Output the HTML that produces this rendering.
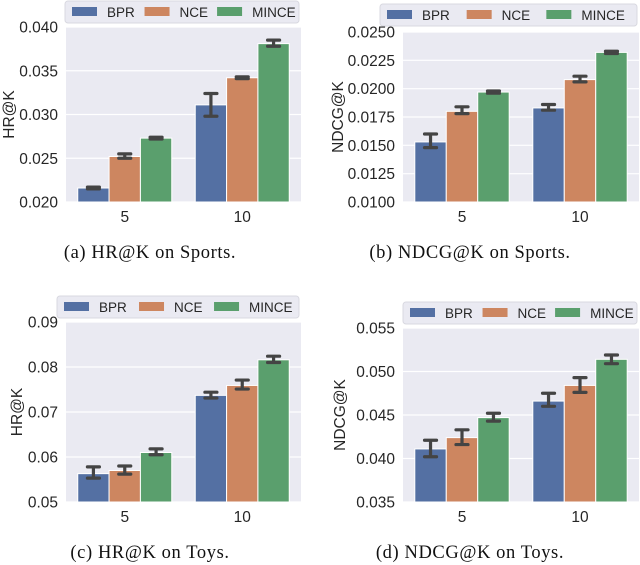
<!DOCTYPE html>
<html><head><meta charset="utf-8"><style>
body{margin:0;background:#fff;width:640px;height:565px;overflow:hidden}
svg{display:block}
</style></head><body>
<svg id="c" width="640" height="565" xmlns="http://www.w3.org/2000/svg"></svg>
<script>
const categories=["5","10"];
const seriesNames=["BPR","NCE","MINCE"];
const colors=["#5470a3","#cd8660","#5a9f6d"];
// panel a: HR@K Sports
const aValues=[[0.0216,0.0311],[0.0252,0.0342],[0.0273,0.0381]];
const aLow=[[0.0215,0.0298],[0.0250,0.0341],[0.0272,0.0378]];
const aHigh=[[0.0217,0.0324],[0.0255,0.0343],[0.0274,0.0385]];
const aTicks=["0.020","0.025","0.030","0.035","0.040"];
// panel b: NDCG@K Sports
const bValues=[[0.0153,0.0183],[0.0180,0.0208],[0.0197,0.0232]];
const bLow=[[0.0148,0.0181],[0.0178,0.0206],[0.0196,0.0231]];
const bHigh=[[0.0160,0.0186],[0.0184,0.0211],[0.0198,0.0233]];
const bTicks=["0.0100","0.0125","0.0150","0.0175","0.0200","0.0225","0.0250"];
// panel c: HR@K Toys
const cValues=[[0.0563,0.0737],[0.0570,0.0759],[0.0610,0.0816]];
const cLow=[[0.0553,0.0731],[0.0562,0.0751],[0.0605,0.0810]];
const cHigh=[[0.0578,0.0744],[0.0580,0.0771],[0.0618,0.0824]];
const cTicks=["0.05","0.06","0.07","0.08","0.09"];
// panel d: NDCG@K Toys
const dValues=[[0.0411,0.0466],[0.0424,0.0484],[0.0447,0.0514]];
const dLow=[[0.0402,0.0460],[0.0416,0.0476],[0.0443,0.0509]];
const dHigh=[[0.0421,0.0475],[0.0433,0.0493],[0.0452,0.0519]];
const dTicks=["0.035","0.040","0.045","0.050","0.055"];

const NS="http://www.w3.org/2000/svg";
const svg=document.getElementById('c');
const FONT='Liberation Sans, Arial, sans-serif';
function mk(tag,attrs,parent){const e=document.createElementNS(NS,tag);for(const k in attrs)e.setAttribute(k,attrs[k]);(parent||svg).appendChild(e);return e;}

function panel(id,x0,x1,yTop,yBot,ticks,vals,lo,hi,ylabel,ylx,legX0,legY,caption,capX,capY){
  const g=mk('g',{});
  
  
  const tmin=parseFloat(ticks[0]),tmax=parseFloat(ticks[ticks.length-1]);
  const y=v=>yBot-(v-tmin)/(tmax-tmin)*(yBot-yTop);
  const bg=mk('rect',{x:x0,y:yTop,width:x1-x0,height:yBot-yTop,fill:'#eaeaf2'},g);
  
  
  ticks.forEach(t=>{
    const v=parseFloat(t),yy=y(v);
    mk('line',{x1:x0,x2:x1,y1:yy,y2:yy,stroke:'#fff','stroke-width':1.2},g);
    const tx=mk('text',{x:x0-8,y:yy+5.5,'text-anchor':'end','font-size':15.5,fill:'#262626','font-family':FONT},g);
    tx.textContent=t;
    
    
  });
  const band=(x1-x0)/categories.length,bw=band*0.8/3;
  categories.forEach((c,ci)=>{
    const cx=x0+band*(ci+0.5);
    seriesNames.forEach((s,si)=>{
      const bx=cx-band*0.4+si*bw;
      const r=mk('rect',{x:bx,y:y(vals[si][ci]),width:bw,height:yBot-y(vals[si][ci]),fill:colors[si],stroke:'#fff','stroke-width':1},g);
      
      
      const mx=bx+bw/2,yl=y(lo[si][ci]),yh=y(hi[si][ci]);
      const eb=mk('path',{d:`M${mx},${yl}V${yh}M${mx-6},${yl}H${mx+6}M${mx-6},${yh}H${mx+6}`,stroke:'#444','stroke-width':3.2,'stroke-linecap':'round',fill:'none'},g);
      
      
    });
    const xt=mk('text',{x:cx,y:yBot+20,'text-anchor':'middle','font-size':15.5,fill:'#262626','font-family':FONT},g);
    xt.textContent=c;
    
    
  });
  const yl=mk('text',{x:ylx,y:(yTop+yBot)/2,'text-anchor':'middle','font-size':15.5,fill:'#262626','font-family':FONT,transform:`rotate(-90 ${ylx} ${(yTop+yBot)/2})`},g);
  yl.textContent=ylabel;
  
  
  const lg=mk('g',{},g);
  
  
  const lw=x1-legX0-2;
  mk('rect',{x:legX0,y:legY,width:lw,height:22,rx:3,fill:'#eaeaf2',stroke:'#d8d8e0','stroke-width':1},lg);
  const offs=[0,0.31,0.62];
  seriesNames.forEach((s,si)=>{
    const ex=legX0+7+offs[si]*lw;
    const e=mk('g',{},lg);
    
    
    mk('rect',{x:ex,y:legY+6,width:25,height:9,fill:colors[si]},e);
    const t=mk('text',{x:ex+35,y:legY+16,'font-size':13.5,fill:'#262626','font-family':FONT},e);
    t.textContent=s;
  });
  const cp=mk('text',{x:capX,y:capY,'text-anchor':'middle','font-size':18.5,'letter-spacing':'0.6',fill:'#111','font-family':'Liberation Serif, serif'},g);
  cp.textContent=caption;
  
  
}
panel('a',66,301,27,202,aTicks,aValues,aLow,aHigh,'HR@K',14,65,1,'(a)  HR@K on Sports.',150,258);
panel('b',403,639,32,202,bTicks,bValues,bLow,bHigh,'NDCG@K',343,380,4,'(b)  NDCG@K on Sports.',470,258);
panel('c',66,301,322,502,cTicks,cValues,cLow,cHigh,'HR@K',22,57,296,'(c)  HR@K on Toys.',150,558);
panel('d',403,639,328,502,dTicks,dValues,dLow,dHigh,'NDCG@K',345,403,302,'(d)  NDCG@K on Toys.',470,558);
</script>
</body></html>
